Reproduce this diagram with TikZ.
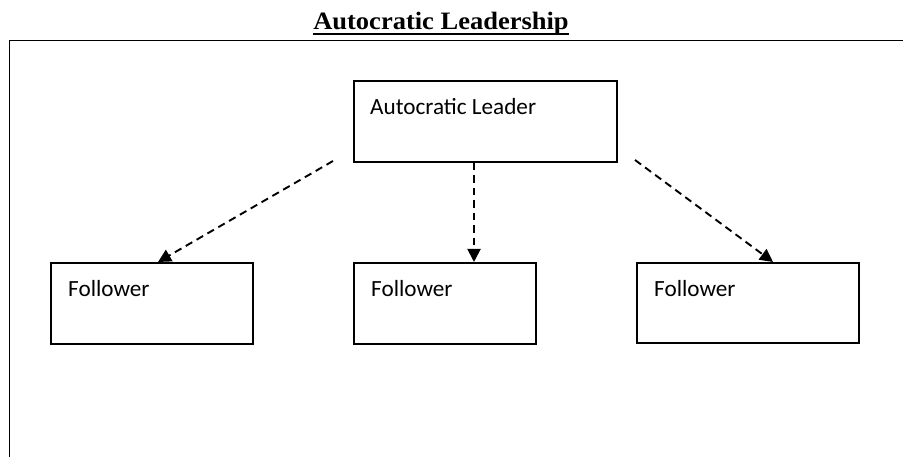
\documentclass[tikz,border=0pt]{standalone}
\usepackage{fontspec}
\setmainfont{Carlito}
\newfontfamily\titlefont{Liberation Serif}
\usetikzlibrary{calc,arrows.meta}
\tikzset{
  box/.style={draw, line width=1.6pt, rectangle, inner sep=0pt, anchor=north west},
  boxtext/.style={anchor=base west, inner sep=0pt, font=\fontsize{23.2}{27}\selectfont},
  arr/.style={line width=1.9pt, dash pattern=on 7.5pt off 5pt, -{Triangle[length=13pt,width=13pt]}},
  frame/.style={line width=1.5pt}
}
\begin{document}
\begin{tikzpicture}[x=1pt,y=-1pt]
\useasboundingbox (0,0) rectangle (903,457);
% title
\node[anchor=base, inner sep=0pt] (title) at (441,29.3)
  {\scalebox{1.06}[1]{\titlefont\bfseries\fontsize{25}{30}\selectfont Autocratic Leadership}};
\draw[line width=2.4pt] ($(title.base west)+(0,4.8)$) -- ($(title.base east)+(0,4.8)$);
% frame
\coordinate (fr) at (903,40.7);
\coordinate (fc) at (9.5,40.7);
\coordinate (fb) at (9.5,457);
\draw[frame] (fr) -- (fc) -- (fb);
% boxes
\node[box, minimum width=263pt, minimum height=81pt] (lead) at (353,80) {};
\node[boxtext] (leadt) at ($(lead.north west)+(17,35)$) {Autocratic Leader};
\node[box, minimum width=202pt, minimum height=81pt] (f1) at (50,262) {};
\node[boxtext] (f1t) at ($(f1.north west)+(18,35)$) {Follower};
\node[box, minimum width=182pt, minimum height=81pt] (f2) at (353,262) {};
\node[boxtext] (f2t) at ($(f2.north west)+(18,35)$) {Follower};
\node[box, minimum width=222pt, minimum height=80pt] (f3) at (636,262) {};
\node[boxtext] (f3t) at ($(f3.north west)+(18,35)$) {Follower};
% arrows
\coordinate (ls) at (333,161);
\coordinate (rs) at (635,160);
\draw[arr] (ls) -- ($(f1.north west)+(108,0)$);
\draw[arr] ($(lead.south west)+(121,0)$) -- ($(f2.north west)+(121,0)$);
\draw[arr] (rs) -- ($(f3.north west)+(137,0)$);
\end{tikzpicture}
\end{document}
